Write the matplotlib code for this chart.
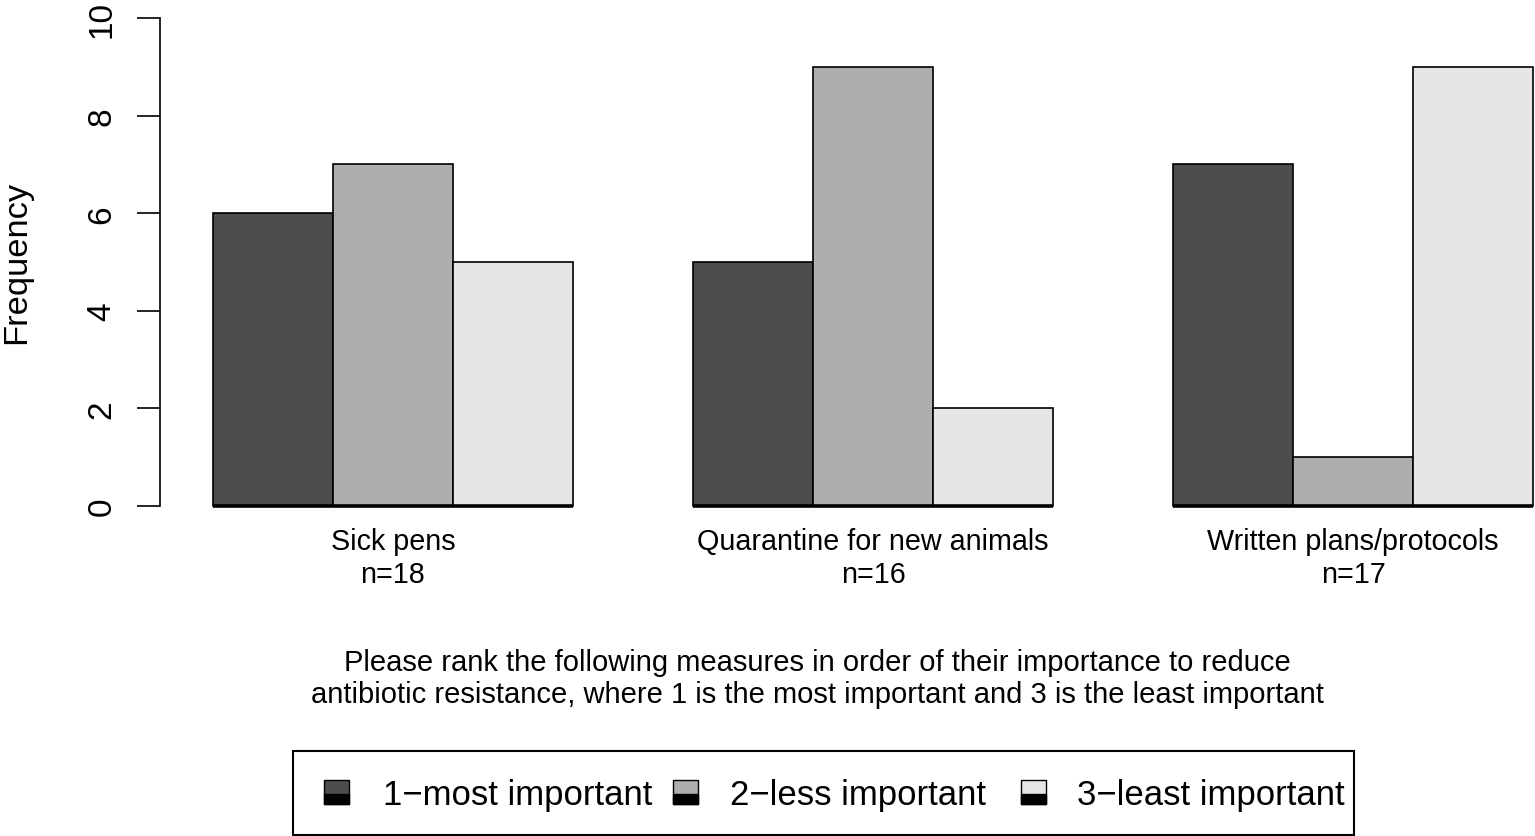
import numpy as np
import matplotlib.pyplot as plt
from matplotlib.patches import Rectangle

plt.rcParams['font.family'] = ['Liberation Sans', 'DejaVu Sans']

# dados
medidas = ["Sick pens", "Quarantine for new animals", "Written plans/protocols"]
n_resp = [18, 16, 17]
mais_importante = [6, 5, 7]
menos_importante = [7, 9, 1]
minimo_importante = [5, 2, 9]
rotulos = ["1\u2212most important", "2\u2212less important", "3\u2212least important"]
cores = ["#4D4D4D", "#AEAEAE", "#E6E6E6"]

W, H = 1535, 837
fig = plt.figure(figsize=(W / 100, H / 100), dpi=100)

def fx(x):
    return x / W

def fy(y):
    return 1 - y / H

# eixo que nem o barplot do R (passa da borda direita)
ax = fig.add_axes([fx(160), fy(526.5), (1586 - 160) / W, 527 / H])
ax.set_xlim(0.56, 12.44)
ax.set_ylim(-0.4, 10.4)

series = [mais_importante, menos_importante, minimo_importante]
grupos = np.arange(len(medidas))
for j, (vals, cor) in enumerate(zip(series, cores)):
    esq = 1 + 4 * grupos + j
    ax.bar(esq, vals, width=1, align='edge', color=cor, edgecolor='black', linewidth=1.2, zorder=2)

# linha grossa na base de cada grupo
for g in grupos:
    ax.hlines(0, 1 + 4 * g, 4 + 4 * g, color='black', linewidth=2.6, zorder=3)

for s in ['top', 'right', 'bottom']:
    ax.spines[s].set_visible(False)
ax.spines['left'].set_bounds(0, 10)
ax.spines['left'].set_linewidth(1.2)

ax.set_yticks(np.arange(0, 11, 2))
ax.tick_params(axis='y', length=16.5, width=1.2, pad=14, labelsize=24)
for t in ax.get_yticklabels():
    t.set_rotation(90)
    t.set_va('center')

centros = 1 + 4 * grupos + 1.5
ax.set_xticks(centros)
ax.set_xticklabels([f"{m}\nn={n}" for m, n in zip(medidas, n_resp)], fontsize=20.7, linespacing=1.22)
ax.tick_params(axis='x', length=0, pad=1)

fig.text(fx(17), fy(262), "Frequency", rotation=90, ha='center', va='center', fontsize=24.8)

fig.text(fx(817), fy(679),
         "Please rank the following measures in order of their importance to reduce\n"
         "antibiotic resistance, where 1 is the most important and 3 is the least important",
         ha='center', va='center', fontsize=21, linespacing=1.2)

# legenda desenhada na mao
fig.patches.append(Rectangle((fx(293), fy(836)), (1354 - 293) / W, (836 - 752) / H,
                             transform=fig.transFigure, facecolor='none', edgecolor='black', linewidth=1.5))
quad_x = [324, 673, 1021]
texto_x = [383, 730, 1077]
for qx, tx, cor, rot in zip(quad_x, texto_x, cores, rotulos):
    fig.patches.append(Rectangle((fx(qx), fy(805)), 25 / W, 24 / H, transform=fig.transFigure,
                                 facecolor=cor, edgecolor='black', linewidth=1.0))
    fig.patches.append(Rectangle((fx(qx), fy(805)), 25 / W, 10 / H, transform=fig.transFigure,
                                 facecolor='black', edgecolor='black', linewidth=1.0))
    fig.text(fx(tx), fy(796), rot, ha='left', va='center', fontsize=25)

fig.savefig('out.png', dpi=100)
